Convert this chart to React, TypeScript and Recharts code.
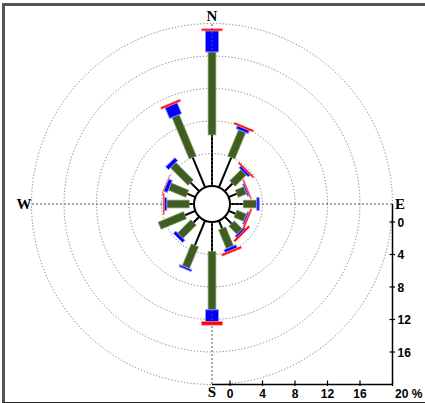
import React from "react";
import {
  RadialBarChart,
  RadialBar,
  PolarGrid,
  PolarAngleAxis,
  PolarRadiusAxis,
  LineChart,
  Line,
  XAxis,
  YAxis,
} from "recharts";

const directions = ["N", "NNE", "NE", "ENE", "E", "ESE", "SE", "SSE", "S", "SSW", "SW", "WSW", "W", "WNW", "NW", "NNW"];
// % of time in each speed class, stacked outward from the calm circle
const speedClass1 = [6.3, 4.0, 1.35, 1.1, 1.65, 0.92, 1.2, 1.05, 3.65, 3.3, 1.0, 1.4, 0.6, 1.1, 1.5, 4.0];
const speedClass2 = [10.2, 3.5, 1.95, 1.1, 1.65, 1.28, 1.4, 2.5, 7.15, 2.9, 2.3, 3.35, 2.75, 2.3, 3.05, 5.5];
const speedClass3 = [2.6, 0.4, 0.3, 0.2, 0.3, 0.2, 0.25, 0.4, 1.45, 0.25, 0.4, 0, 0.3, 0.5, 0.5, 1.45];
const speedClass4 = [0.25, 0.25, 0.2, 0.15, 0, 0.2, 0.25, 0.25, 0.45, 0, 0, 0, 0.15, 0.05, 0, 0.25];
const ringTicks = [4, 8, 12, 16, 20];
const xScaleTicks = [0, 4, 8, 12, 16, 20];
const yScaleTicks = [0, 4, 8, 12, 16];
const cardinals = ["N", "E", "S", "W"];

const W = 425;
const H = 403;
const CX = 212;
const CY = 204;
const R0 = 18;
const R1 = 180.5;
const MAX = 20;
const AXIS_MIN = (-MAX * R0) / (R1 - R0);
const LABEL_R = 188;
const RAD = Math.PI / 180;
const HALF_BAND = 360 / directions.length / 2;

const data = directions.map((dir, i) => ({
  dir,
  c1: speedClass1[i],
  c2: speedClass2[i],
  c3: speedClass3[i],
  c4: speedClass4[i],
}));

// constant-width ray instead of a wedge
const ray = (width: number) => (props: any) => {
  const { cx, cy, innerRadius, outerRadius, startAngle, endAngle, fill, stroke, strokeWidth } = props;
  if (!(outerRadius - innerRadius > 0.01)) return <g />;
  const a = ((startAngle + endAngle) / 2) * RAD;
  const ux = Math.cos(a);
  const uy = -Math.sin(a);
  const px = -uy * (width / 2);
  const py = ux * (width / 2);
  const x1 = cx + innerRadius * ux;
  const y1 = cy + innerRadius * uy;
  const x2 = cx + outerRadius * ux;
  const y2 = cy + outerRadius * uy;
  const pts = [
    [x1 + px, y1 + py],
    [x2 + px, y2 + py],
    [x2 - px, y2 - py],
    [x1 - px, y1 - py],
  ]
    .map((p) => p.join(","))
    .join(" ");
  return <polygon points={pts} fill={fill} stroke={stroke} strokeWidth={strokeWidth} />;
};

const renderCompass = (props: any) => {
  const { x, y, payload } = props;
  if (!cardinals.includes(payload.value)) return <g />;
  const cx = props.cx ?? CX;
  const cy = props.cy ?? CY;
  const dx = x - cx;
  const dy = y - cy;
  const d = Math.hypot(dx, dy) || 1;
  return (
    <text
      x={cx + (dx / d) * LABEL_R}
      y={cy + (dy / d) * LABEL_R}
      textAnchor="middle"
      dominantBaseline="central"
      fontFamily="'Liberation Serif', serif"
      fontWeight="bold"
      fontSize={15}
      fill="#000"
    >
      {payload.value}
    </text>
  );
};

const tickFont = {
  fontFamily: "'Liberation Sans', Arial, sans-serif",
  fontWeight: "bold" as const,
  fontSize: 12,
  fill: "#000",
};

const renderXTick = (props: any) => {
  const { x, y, payload } = props;
  const last = payload.value === MAX;
  return (
    <g>
      <line x1={x} y1={y - 4} x2={x} y2={y + 1.5} stroke="#000" strokeWidth={1.2} />
      <text x={last ? x + 2.5 : x} y={y + 13} textAnchor={last ? "start" : "middle"} {...tickFont}>
        {last ? `${payload.value} %` : payload.value}
      </text>
    </g>
  );
};

const renderYTick = (props: any) => {
  const { x, y, payload } = props;
  return (
    <g>
      <line x1={x - 3} y1={y} x2={x + 2.5} y2={y} stroke="#000" strokeWidth={1.2} />
      <text x={x + 5} y={y + 4.5} textAnchor="start" {...tickFont}>
        {payload.value}
      </text>
    </g>
  );
};

const layer: React.CSSProperties = { position: "absolute", left: 0, top: 0 };

const polarBase = {
  width: W,
  height: H,
  cx: CX,
  cy: CY,
  innerRadius: R0,
  outerRadius: R1,
  layout: "centric" as const,
  data,
  margin: { top: 0, right: 0, bottom: 0, left: 0 },
};

export default function App() {
  return (
    <div style={{ position: "absolute", left: 0, top: 0, width: W, height: H, background: "#fff" }}>
      <div
        style={{
          position: "absolute",
          left: 2,
          top: 3,
          width: W,
          height: 396,
          borderLeft: "3px solid #555",
          borderTop: "3px solid #555",
          borderBottom: "1.5px solid #222",
        }}
      />
      <div style={layer}>
        {/* bars: each sector is drawn from the band start, so shift range back half a band */}
        <RadialBarChart {...polarBase} startAngle={90 - HALF_BAND} endAngle={90 - HALF_BAND - 360}>
          <PolarGrid gridType="circle" radialLines={false} stroke="#7a7a7a" strokeDasharray="1.2 2" />
          <PolarAngleAxis type="category" dataKey="dir" axisLine={false} tickLine={false} tick={false} />
          <PolarRadiusAxis type="number" domain={[0, MAX]} ticks={ringTicks} tick={false} axisLine={false} />
          <RadialBar dataKey="c1" stackId="w" fill="#000" shape={ray(2)} isAnimationActive={false} />
          <RadialBar
            dataKey="c2"
            stackId="w"
            fill="#3e5d1e"
            stroke="#6f8a58"
            strokeWidth={0.8}
            shape={ray(7.5)}
            isAnimationActive={false}
          />
          <RadialBar
            dataKey="c3"
            stackId="w"
            fill="#0000ff"
            stroke="#8c8cff"
            strokeWidth={1}
            shape={ray(13)}
            isAnimationActive={false}
          />
          <RadialBar
            dataKey="c4"
            stackId="w"
            fill="#ff0000"
            stroke="#ff8a8a"
            strokeWidth={0.6}
            shape={ray(21)}
            isAnimationActive={false}
          />
        </RadialBarChart>
      </div>
      <div style={layer}>
        <RadialBarChart {...polarBase} startAngle={90} endAngle={-270}>
          <PolarAngleAxis type="category" dataKey="dir" axisLine={false} tickLine={false} tick={renderCompass} />
          <PolarRadiusAxis type="number" domain={[0, MAX]} tick={false} axisLine={false} />
          <PolarGrid gridType="circle" polarRadius={[]} polarAngles={[90, 0, -90, 180]} stroke="#555" strokeDasharray="2 2" />
          {/* calm circle at the inner radius */}
          <PolarGrid gridType="circle" radialLines={false} polarAngles={[]} polarRadius={[R0]} stroke="#000" strokeWidth={2} />
        </RadialBarChart>
      </div>
      <div style={layer}>
        <LineChart
          width={W}
          height={H}
          data={xScaleTicks.map((v) => ({ v }))}
          margin={{ top: CY, left: CX, right: W - (CX + R1) - 30, bottom: H - (CY + R1) - 18 }}
        >
          <XAxis
            type="number"
            dataKey="v"
            domain={[AXIS_MIN, MAX]}
            allowDataOverflow
            ticks={xScaleTicks}
            interval={0}
            height={18}
            tickSize={0}
            tickMargin={0}
            tickLine={false}
            stroke="#000"
            strokeWidth={1.5}
            tick={renderXTick}
          />
          <YAxis
            type="number"
            orientation="right"
            width={30}
            domain={[AXIS_MIN, MAX]}
            allowDataOverflow
            reversed
            ticks={yScaleTicks}
            interval={0}
            tickSize={0}
            tickMargin={0}
            tickLine={false}
            stroke="#000"
            strokeWidth={1.5}
            tick={renderYTick}
          />
          <Line dataKey="v" stroke="none" dot={false} isAnimationActive={false} />
        </LineChart>
      </div>
    </div>
  );
}
